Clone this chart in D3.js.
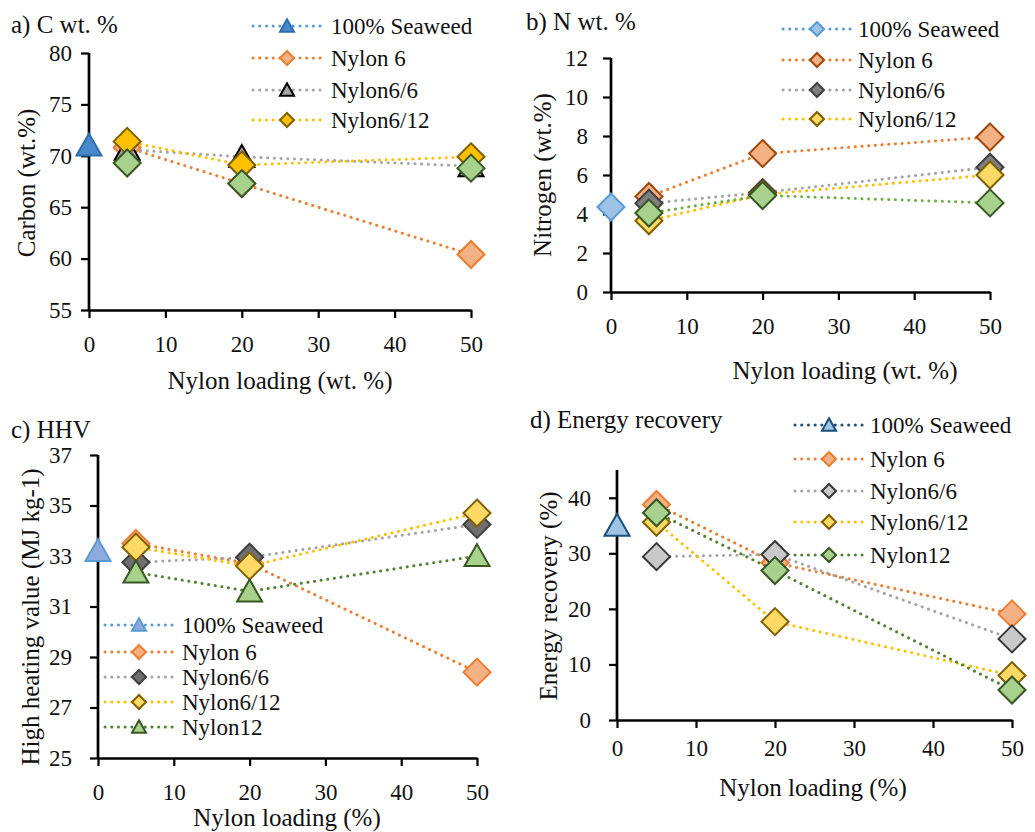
<!DOCTYPE html>
<html>
<head>
<meta charset="utf-8">
<script src="https://cdn.jsdelivr.net/npm/d3@7"></script>
<style>
  body { margin: 0; background: #fff; }
  svg text { font-family: "Liberation Serif", "DejaVu Serif", serif; fill: #111; }
</style>
</head>
<body>
<svg id="chart" width="1035" height="832"></svg>
<script>
// nylon loading (x) for blends and the pure seaweed point
const loadings = [5, 20, 50];
const seaweedLoading = [0];
const xTicks = [0, 10, 20, 30, 40, 50];

// a) carbon wt.%
const cSeaweed = [71.0];
const cNylon6 = [70.8, 67.3, 60.4];
const cNylon66 = [70.6, 69.9, 69.0];
const cNylon612 = [71.4, 69.1, 69.9];
const cNylon12 = [69.3, 67.3, 68.8];
const cTicks = [55, 60, 65, 70, 75, 80];

// b) nitrogen wt.%
const nSeaweed = [4.36];
const nNylon6 = [4.9, 7.1, 7.95];
const nNylon66 = [4.55, 5.1, 6.4];
const nNylon612 = [3.65, 5.0, 6.0];
const nNylon12 = [4.05, 4.95, 4.57];
const nTicks = [0, 2, 4, 6, 8, 10, 12];

// c) HHV (MJ/kg)
const hSeaweed = [33.2];
const hNylon6 = [33.5, 32.7, 28.4];
const hNylon66 = [32.75, 32.95, 34.25];
const hNylon612 = [33.35, 32.6, 34.7];
const hNylon12 = [32.35, 31.6, 33.0];
const hTicks = [25, 27, 29, 31, 33, 35, 37];

// d) energy recovery %
const eSeaweed = [35.0];
const eNylon6 = [38.8, 28.3, 19.1];
const eNylon66 = [29.4, 29.8, 14.6];
const eNylon612 = [35.6, 17.7, 8.0];
const eNylon12 = [37.3, 26.9, 5.4];
const eTicks = [0, 10, 20, 30, 40];

const names = ['100% Seaweed', 'Nylon 6', 'Nylon6/6', 'Nylon6/12', 'Nylon12'];

const svg = d3.select('#chart');

const shape = (type, r) => {
    if (type === 'diamond') return `M0,${-r}L${r},0L0,${r}L${-r},0Z`;
    // triangle
    const h = r * 0.95;
    return `M0,${-h}L${r},${h * 0.85}L${-r},${h * 0.85}Z`;
};

const panels = [
    {
        title: 'a) C wt. %', titleXY: [11, 33],
        x: [89, 471], y: [310, 53], domain: [55, 80], ticks: cTicks, top: 80,
        yLabel: 'Carbon (wt.%)', yLabelXY: [35, 183],
        xLabel: 'Nylon loading (wt. %)', xLabelXY: [280, 389],
        xPad: 18, yPad: 9,
        legend: { x: 253, rows: [26, 58, 90, 120], text: 331 },
        series: [
            { xs: seaweedLoading, ys: cSeaweed, line: '#5B9BD5', m: 'triangle', fill: '#4A88CC', stroke: '#2F6EAE', legend: true },
            { xs: loadings, ys: cNylon6, line: '#ED7D31', m: 'diamond', fill: '#F4B183', stroke: '#ED7D31', legend: true },
            { xs: loadings, ys: cNylon66, line: '#A5A5A5', m: 'triangle', fill: '#A5A5A5', stroke: '#000', legend: true },
            { xs: loadings, ys: cNylon612, line: '#FFC000', m: 'diamond', fill: '#FFC000', stroke: '#7F6000', legend: true },
            { xs: loadings, ys: cNylon12, line: null, m: 'diamond', fill: '#A9D18E', stroke: '#385723', legend: false }
        ]
    },
    {
        title: 'b) N wt. %', titleXY: [526, 30],
        x: [611, 990], y: [292, 58], domain: [0, 12], ticks: nTicks, top: 12,
        yLabel: 'Nitrogen (wt.%)', yLabelXY: [551, 175],
        xLabel: 'Nylon loading (wt. %)', xLabelXY: [845, 379],
        xPad: 18, yPad: 15,
        legend: { x: 783, rows: [29, 60, 90, 119], text: 858 },
        series: [
            { xs: seaweedLoading, ys: nSeaweed, line: '#5B9BD5', m: 'diamond', fill: '#9DC3E6', stroke: '#5B9BD5', legend: true },
            { xs: loadings, ys: nNylon6, line: '#ED7D31', m: 'diamond', fill: '#F4B183', stroke: '#A0470E', legend: true },
            { xs: loadings, ys: nNylon66, line: '#A5A5A5', m: 'diamond', fill: '#7F7F7F', stroke: '#404040', legend: true },
            { xs: loadings, ys: nNylon612, line: '#FFC000', m: 'diamond', fill: '#FFD966', stroke: '#7F6000', legend: true },
            { xs: loadings, ys: nNylon12, line: '#70AD47', m: 'diamond', fill: '#A9D18E', stroke: '#385723', legend: false }
        ]
    },
    {
        title: 'c) HHV', titleXY: [11, 438],
        x: [98, 477], y: [758, 455], domain: [25, 37], ticks: hTicks, top: 37,
        yLabel: 'High heating value (MJ kg-1)', yLabelXY: [39, 617],
        xLabel: 'Nylon loading (%)', xLabelXY: [287, 826],
        xPad: 18, yPad: 18,
        legend: { x: 105, rows: [625, 652, 677, 702, 727], text: 182 },
        series: [
            { xs: seaweedLoading, ys: hSeaweed, line: '#5B9BD5', m: 'triangle', fill: '#8FAADC', stroke: '#5B9BD5', legend: true },
            { xs: loadings, ys: hNylon6, line: '#ED7D31', m: 'diamond', fill: '#F4B183', stroke: '#ED7D31', legend: true },
            { xs: loadings, ys: hNylon66, line: '#A5A5A5', m: 'diamond', fill: '#6F6F6F', stroke: '#404040', legend: true },
            { xs: loadings, ys: hNylon612, line: '#FFC000', m: 'diamond', fill: '#FFD966', stroke: '#7F6000', legend: true },
            { xs: loadings, ys: hNylon12, line: '#548235', m: 'triangle', fill: '#A9D18E', stroke: '#385723', legend: true }
        ]
    },
    {
        title: 'd) Energy recovery', titleXY: [530, 428],
        x: [617, 1012], y: [720, 470], domain: [0, 45], ticks: eTicks, top: 45,
        yLabel: 'Energy recovery (%)', yLabelXY: [557, 596],
        xLabel: 'Nylon loading (%)', xLabelXY: [813, 796],
        xPad: 12, yPad: 18,
        legend: { x: 795, rows: [425, 459, 491, 522, 555], text: 870 },
        series: [
            { xs: seaweedLoading, ys: eSeaweed, line: '#1F4E79', m: 'triangle', fill: '#9DC3E6', stroke: '#1F4E79', legend: true },
            { xs: loadings, ys: eNylon6, line: '#ED7D31', m: 'diamond', fill: '#F4B183', stroke: '#ED7D31', legend: true },
            { xs: loadings, ys: eNylon66, line: '#A5A5A5', m: 'diamond', fill: '#C9C9C9', stroke: '#3A3838', legend: true },
            { xs: loadings, ys: eNylon612, line: '#FFC000', m: 'diamond', fill: '#FFD966', stroke: '#7F6000', legend: true },
            { xs: loadings, ys: eNylon12, line: '#548235', m: 'diamond', fill: '#A9D18E', stroke: '#385723', legend: true }
        ]
    }
];

const drawPanel = p => {
    const x = d3.scaleLinear().domain([0, 50]).range(p.x);
    const y = d3.scaleLinear().domain(p.domain).range(p.y);
    const g = svg.append('g');

    // axes
    const yAxis = g.append('g')
        .attr('transform', `translate(${p.x[0]},0)`)
        .call(d3.axisLeft(y).tickValues(p.ticks).tickSize(8).tickSizeOuter(0).tickPadding(p.yPad).tickFormat(d3.format('d')));
    const xAxis = g.append('g')
        .attr('transform', `translate(0,${p.y[0]})`)
        .call(d3.axisBottom(x).tickValues(xTicks).tickSize(8).tickSizeOuter(0).tickPadding(p.xPad).tickFormat(d3.format('d')));
    [yAxis, xAxis].forEach(a => {
        a.attr('font-family', null);
        a.select('.domain').attr('stroke', '#000').attr('stroke-width', 2.7);
        a.selectAll('.tick line').attr('stroke', '#000').attr('stroke-width', 2.2);
        a.selectAll('.tick text').style('font-size', '23px').attr('fill', '#111');
    });
    yAxis.select('.domain').attr('d', `M0,${y(p.top)}V${p.y[0]}`);

    // titles
    g.append('text').attr('x', p.titleXY[0]).attr('y', p.titleXY[1])
        .style('font-size', '25px').text(p.title);
    g.append('text').attr('text-anchor', 'middle')
        .attr('transform', `translate(${p.xLabelXY[0]},${p.xLabelXY[1]})`)
        .style('font-size', '25px').text(p.xLabel);
    g.append('text').attr('text-anchor', 'middle')
        .attr('transform', `translate(${p.yLabelXY[0]},${p.yLabelXY[1]}) rotate(-90)`)
        .style('font-size', '25px').text(p.yLabel);

    // series: line first, then markers, in series order
    const line = d3.line().x(d => x(d[0])).y(d => y(d[1]));
    p.series.forEach(s => {
        const pts = s.xs.map((v, i) => [v, s.ys[i]]);
        if (s.line && pts.length > 1) {
            g.append('path').attr('d', line(pts))
                .attr('fill', 'none').attr('stroke', s.line).attr('stroke-width', 3)
                .attr('stroke-linecap', 'round').attr('stroke-dasharray', '0.1 6.6');
        }
        g.selectAll(null).data(pts).enter().append('path')
            .attr('d', shape(s.m, s.m === 'diamond' ? 13.5 : 12.5))
            .attr('transform', d => `translate(${x(d[0])},${y(d[1])})`)
            .attr('fill', s.fill).attr('stroke', s.stroke).attr('stroke-width', 2);
    });

    // legend
    const lg = g.append('g');
    p.series.filter(s => s.legend).forEach((s, i) => {
        const ry = p.legend.rows[i];
        const lx = p.legend.x;
        lg.append('line').attr('x1', lx).attr('x2', lx + 68).attr('y1', ry).attr('y2', ry)
            .attr('stroke', s.line).attr('stroke-width', 3).attr('stroke-linecap', 'round')
            .attr('stroke-dasharray', '0.1 6.6');
        lg.append('path').attr('d', shape(s.m, 7))
            .attr('transform', `translate(${lx + 34},${ry})`)
            .attr('fill', s.fill).attr('stroke', s.stroke).attr('stroke-width', 2);
        lg.append('text').attr('x', p.legend.text).attr('y', ry + 8)
            .style('font-size', '23px').text(names[p.series.indexOf(s)]);
    });
};

panels.forEach(drawPanel);
</script>
</body>
</html>
